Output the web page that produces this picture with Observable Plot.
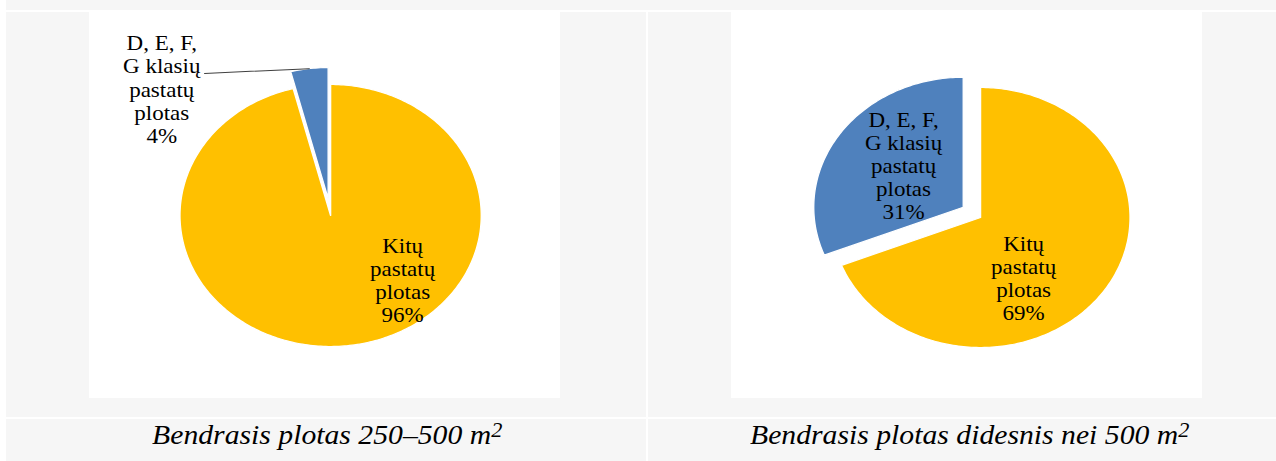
<!DOCTYPE html>
<html>
<head>
<meta charset="utf-8">
<script src="https://cdn.jsdelivr.net/npm/d3@7"></script>
<script src="https://cdn.jsdelivr.net/npm/@observablehq/plot@0.6"></script>
<style>
  html, body { margin: 0; padding: 0; background: #ffffff; }
  #page { position: relative; width: 1276px; height: 461px; overflow: hidden; background: #ffffff; }
  .cell { position: absolute; background: #f6f6f6; }
  .chart { position: absolute; }
  .caption { position: absolute; text-align: center; font-family: "Liberation Serif", "Times New Roman", serif;
             font-style: italic; font-size: 27px; line-height: 32px; color: #000; white-space: nowrap; box-sizing: border-box; }
  .caption span.inner { display: inline-block; transform: scaleX(1.1); transform-origin: center; }
  .caption sup { font-size: 0.75em; vertical-align: baseline; position: relative; top: -7px; line-height: 0; }
</style>
</head>
<body>
<div id="page">
  <div class="cell" style="left:6px;top:0;width:1270px;height:10px"></div>
  <div class="cell" style="left:6px;top:12px;width:640px;height:405px"></div>
  <div class="cell" style="left:648px;top:12px;width:628px;height:405px"></div>
  <div class="cell" style="left:6px;top:419px;width:640px;height:42px"></div>
  <div class="cell" style="left:648px;top:419px;width:628px;height:42px"></div>
  <div id="chartL" class="chart" style="left:89px;top:12px"></div>
  <div id="chartR" class="chart" style="left:731px;top:12px"></div>
  <div id="capL" class="caption" style="left:6px;top:419px;width:640px;padding-left:2px"></div>
  <div id="capR" class="caption" style="left:648px;top:419px;width:628px;padding-left:16px"></div>
</div>
<script>
// ---- data ----
const categories = ["D, E, F, G klasių pastatų plotas", "Kitų pastatų plotas"];
const labelLines = ["D, E, F,\nG klasių\npastatų\nplotas", "Kitų\npastatų\nplotas"];
const sharesSmall = [4, 96];   // Bendrasis plotas 250–500 m2
const sharesLarge = [31, 69];  // Bendrasis plotas didesnis nei 500 m2
const panelTitles = ["Bendrasis plotas 250–500 m", "Bendrasis plotas didesnis nei 500 m"];
const titleSup = "2";
const colors = ["#4F81BD", "#FFC000"];
const drawOrder = [1, 0]; // clockwise from 12 o'clock

// ---- layout (not data) ----
const STRETCH = 1.15;
const OUT_W = 471, OUT_H = 386;
const IN_W = OUT_W / STRETCH;
const charts = [
  { el: "#chartL", shares: sharesSmall, cx: 209.6, cy: 203, r: 131, explode: [0.13, 0],
    labelPos: [[-1.121, 0.965], [0.478, -0.493]], leader: [-0.837, 1.084] },
  { el: "#chartR", shares: sharesLarge, cx: 216.5, cy: 205, r: 130, explode: [0.14, 0],
    labelPos: [[-0.515, 0.40], [0.288, -0.467]], leader: null }
];

function slices(shares, explode) {
  const total = d3.sum(shares);
  let acc = 0;
  const pts = [], info = {};
  for (const i of drawOrder) {
    const a0 = acc / total * 2 * Math.PI;
    acc += shares[i];
    const a1 = acc / total * 2 * Math.PI;
    const am = (a0 + a1) / 2;
    const ox = explode[i] * Math.sin(am), oy = explode[i] * Math.cos(am);
    info[i] = { am, ox, oy };
    pts.push({ k: categories[i], x: ox, y: oy });
    const n = Math.max(2, Math.ceil((a1 - a0) / (Math.PI / 180)));
    for (let j = 0; j <= n; j++) {
      const a = a0 + (a1 - a0) * j / n;
      pts.push({ k: categories[i], x: ox + Math.sin(a), y: oy + Math.cos(a) });
    }
    pts.push({ k: categories[i], x: ox, y: oy });
  }
  return { pts, info };
}

charts.forEach((c) => {
  const { pts, info } = slices(c.shares, c.explode);
  const labels = categories.map((cat, i) => ({
    x: c.labelPos[i][0], y: c.labelPos[i][1],
    text: labelLines[i] + "\n" + c.shares[i] + "%"
  }));
  const marks = [
    Plot.line(pts, { x: "x", y: "y", z: "k", fill: "k", stroke: "white", strokeWidth: 1.2, curve: "linear" })
  ];
  if (c.leader) {
    const b = info[0];
    const end = { x: b.ox + Math.sin(b.am), y: b.oy + Math.cos(b.am) };
    marks.push(Plot.line([{ x: c.leader[0], y: c.leader[1] }, end],
      { x: "x", y: "y", stroke: "#404040", strokeWidth: 1 }));
  }
  marks.push(Plot.text(labels, { x: "x", y: "y", text: "text", fill: "#000", fontSize: 20, lineHeight: 1.16,
    fontFamily: "'Liberation Serif','Times New Roman',serif" }));
  const svg = Plot.plot({
    width: IN_W, height: OUT_H, margin: 0,
    x: { axis: null, domain: [-1, 1], range: [c.cx - c.r, c.cx + c.r] },
    y: { axis: null, domain: [-1, 1], range: [c.cy + c.r, c.cy - c.r] },
    color: { domain: categories, range: colors },
    style: { background: "white", fontFamily: "'Liberation Serif','Times New Roman',serif", fontSize: "20px", color: "#000", overflow: "visible" },
    marks
  });
  svg.setAttribute("viewBox", `0 0 ${IN_W} ${OUT_H}`);
  svg.setAttribute("preserveAspectRatio", "none");
  svg.setAttribute("width", OUT_W);
  svg.setAttribute("height", OUT_H);
  svg.style.width = OUT_W + "px";
  svg.style.height = OUT_H + "px";
  svg.style.maxWidth = "none";
  svg.style.display = "block";
  document.querySelector(c.el).appendChild(svg);
});

[["#capL", 0], ["#capR", 1]].forEach(([sel, i]) => {
  const d = document.querySelector(sel);
  const s = document.createElement("span");
  s.className = "inner";
  s.textContent = panelTitles[i];
  const sup = document.createElement("sup");
  sup.textContent = titleSup;
  s.appendChild(sup);
  d.appendChild(s);
});
</script>
</body>
</html>
